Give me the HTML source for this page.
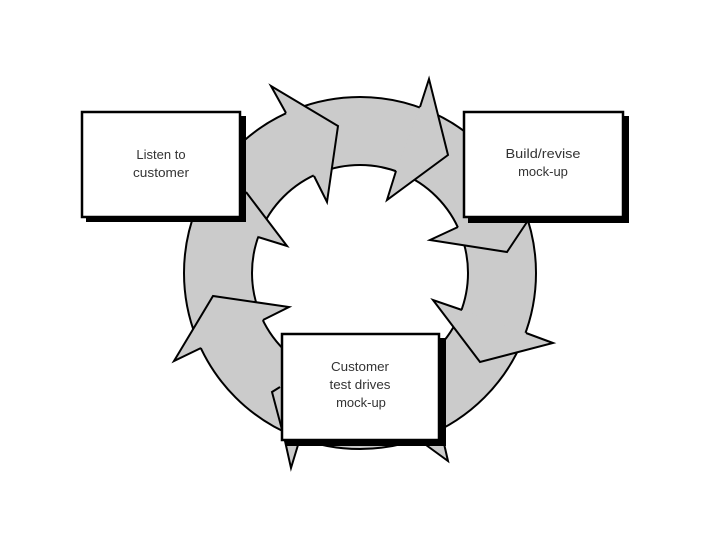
<!DOCTYPE html>
<html>
<head>
<meta charset="utf-8">
<style>
html,body{margin:0;padding:0;background:#fff;}
body{width:720px;height:540px;position:relative;overflow:hidden;}
svg{position:absolute;left:0;top:0;}
text{font-family:"Liberation Sans",sans-serif;font-size:13px;fill:#333;text-anchor:middle;}
</style>
</head>
<body>
<svg width="720" height="540" viewBox="0 0 720 540">
  <rect width="720" height="540" fill="#fff"/>
  <path fill-rule="evenodd" fill="#cbcbcb" d="M184,273a176,176 0 1,0 352,0a176,176 0 1,0 -352,0ZM252,273a108,108 0 1,0 216,0a108,108 0 1,0 -216,0Z"/>
  <circle cx="360" cy="273" r="176" fill="none" stroke="#000" stroke-width="2"/>
  <circle cx="360" cy="273" r="108" fill="none" stroke="#000" stroke-width="2"/>

  <g fill="#cbcbcb" stroke="none">
    <polygon points="420,107 429,79 448,155 387,200 396,171"/>
    <polygon points="286,113 271,86 338,126 327,202 314,176"/>
    <polygon points="246,192 287,246 258,237"/>
    <polygon points="458,227 430,240 507,252 527,222"/>
    <polygon points="462,310 433,300 480,362 553,343 526,333"/>
    <polygon points="263,320 289,307 213,296 174,361 201,348"/>
    <polygon points="280,387 272,392 285,441 291,468 298,445"/>
    <polygon points="426,445 448,461 442,435"/>
  </g>
  <g fill="none" stroke="#000" stroke-width="2" stroke-linejoin="miter" stroke-miterlimit="10">
    <polyline points="420,107 429,79 448,155 387,200 396,171"/>
    <polyline points="286,113 271,86 338,126 327,202 314,176"/>
    <polyline points="246,192 287,246 258,237"/>
    <polyline points="458,227 430,240 507,252 527,222"/>
    <polyline points="462,310 433,300 480,362 553,343 526,333"/>
    <polyline points="263,320 289,307 213,296 174,361 201,348"/>
    <polyline points="280,387 272,392 285,441 291,468 298,445"/>
    <polyline points="426,445 448,461 442,435"/>
  </g>

  <rect x="86" y="116" width="160" height="106" fill="#000"/>
  <rect x="82" y="112" width="158" height="105" fill="#fff" stroke="#000" stroke-width="2.5"/>
  <rect x="468" y="116" width="161" height="107" fill="#000"/>
  <rect x="464" y="112" width="159" height="105" fill="#fff" stroke="#000" stroke-width="2.5"/>
  <rect x="286" y="338" width="160" height="108" fill="#000"/>
  <rect x="282" y="334" width="157" height="106" fill="#fff" stroke="#000" stroke-width="2.5"/>

  <text x="161" y="159">Listen to</text>
  <text x="161" y="177" textLength="56" lengthAdjust="spacingAndGlyphs">customer</text>
  <text x="543" y="158" textLength="75" lengthAdjust="spacingAndGlyphs">Build/revise</text>
  <text x="543" y="176">mock-up</text>
  <text x="360" y="371" textLength="58" lengthAdjust="spacingAndGlyphs">Customer</text>
  <text x="360" y="389" textLength="61" lengthAdjust="spacingAndGlyphs">test drives</text>
  <text x="361" y="407">mock-up</text>
</svg>
</body>
</html>
